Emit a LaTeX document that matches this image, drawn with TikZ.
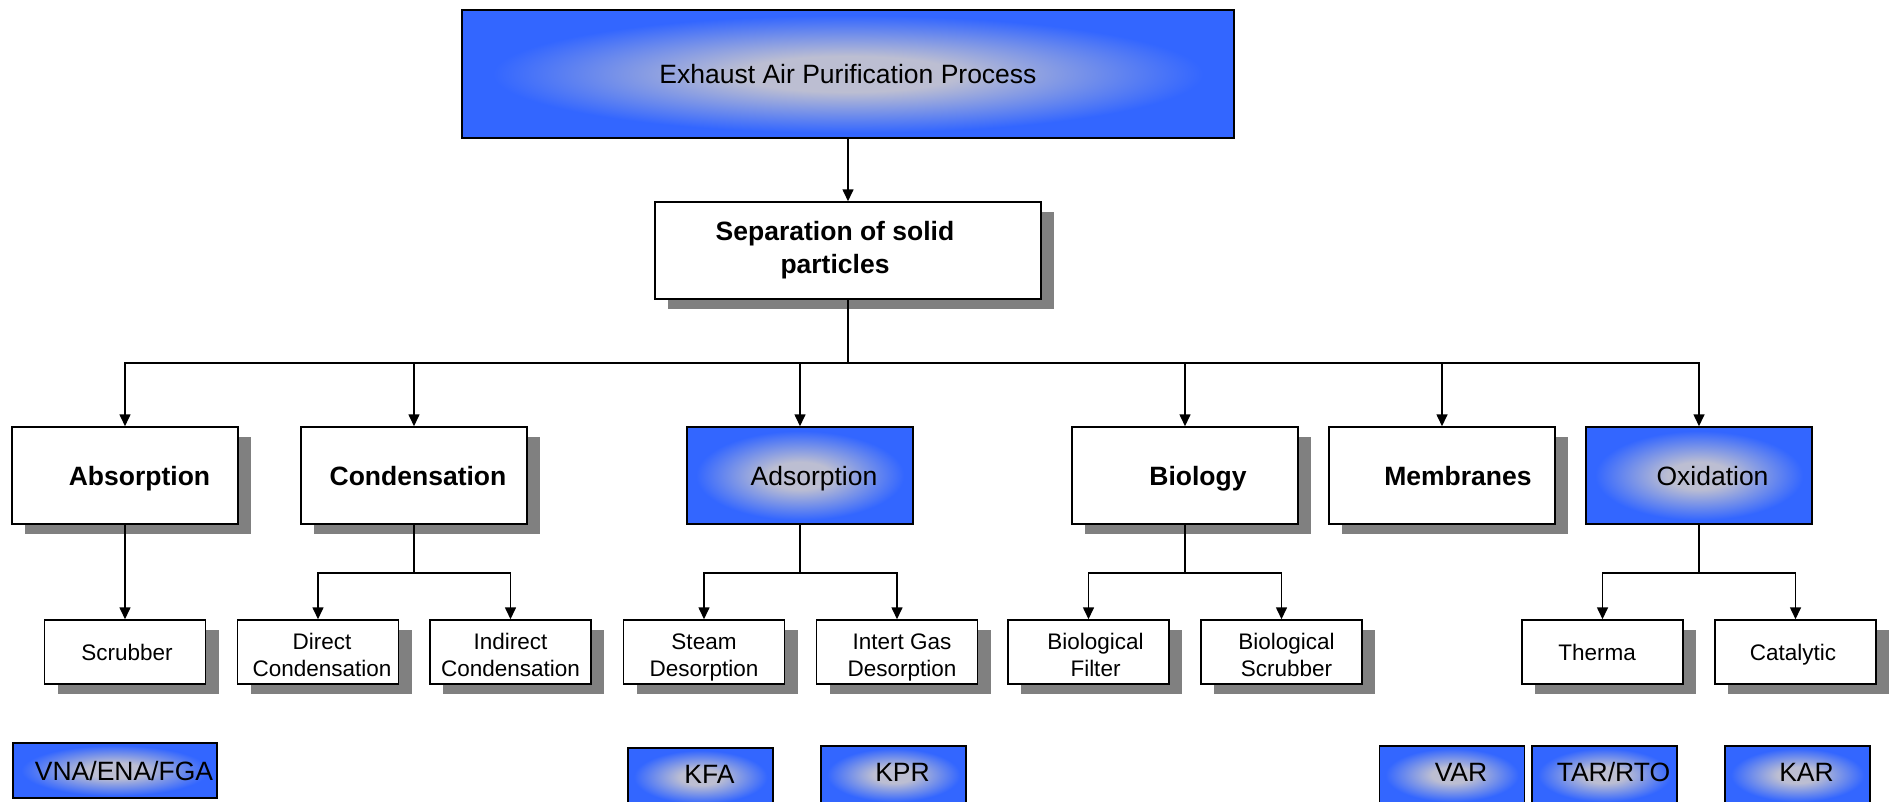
\documentclass[tikz,border=0pt]{standalone}
\usepackage{fontspec}
\setmainfont{Liberation Sans}
\usetikzlibrary{arrows.meta,shadows}
\definecolor{bedge}{RGB}{51,102,255}
\definecolor{bcenter}{RGB}{188,190,210}
\definecolor{shgray}{RGB}{128,128,128}
\pgfdeclareradialshading{glow}{\pgfpoint{0bp}{0bp}}{color(0bp)=(bcenter); color(7bp)=(bcenter); color(23bp)=(bedge); color(50bp)=(bedge)}
\newcommand\padl[1]{\rule{#1}{0pt}}
\newcommand\twol[3]{\rule{#1}{0pt}\rule{0pt}{26pt}#2\\\rule{#1}{0pt}#3\rule[-5pt]{0pt}{5pt}}
\tikzset{
  box/.style={draw=black, line width=1.5pt, rectangle, inner sep=0pt, align=center},
  wbox/.style={box, fill=white, drop shadow={shadow xshift=13pt, shadow yshift=-10pt, fill=shgray, opacity=1}},
  gbox/.style={box, shade, shading=glow},
  lvltwo/.style={minimum width=226pt, minimum height=97pt, font=\fontsize{26.5}{33}\selectfont, text height=19pt, text depth=0pt},
  lvlthree/.style={wbox, minimum width=161pt, minimum height=64pt, font=\fontsize{22.5}{27}\selectfont},
  onel/.style={text height=16.1pt, text depth=0pt},
  botbox/.style={gbox, minimum width=145pt, minimum height=58pt, font=\fontsize{26.5}{33}\selectfont, text height=19pt, text depth=6pt},
  conn/.style={line width=1.6pt, -{Triangle[length=12pt,width=11pt]}},
}
\begin{document}
\begin{tikzpicture}[x=1pt,y=-1pt]
\useasboundingbox (0,0) rectangle (1891,801);
\clip (0,0) rectangle (1891,801);

% level 0 / 1
\node[gbox, minimum width=772pt, minimum height=128pt, font=\fontsize{26.5}{33}\selectfont, text height=19pt, text depth=0pt] (top) at (848,74) {Exhaust Air Purification Process};
\node[wbox, minimum width=386pt, minimum height=97pt, font=\bfseries\fontsize{26.5}{33}\selectfont] (sep) at (848,250.5) {Separation of solid\padl{26pt}\\particles\padl{26pt}};

% level 2
\node[wbox, lvltwo, font=\bfseries\fontsize{26.5}{33}\selectfont] (abs) at (125,475.5) {\padl{29pt}Absorption};
\node[wbox, lvltwo, font=\bfseries\fontsize{26.5}{33}\selectfont] (cond) at (414,475.5) {\padl{8pt}Condensation};
\node[gbox, lvltwo] (ads) at (800,475.5) {\padl{28pt}Adsorption};
\node[wbox, lvltwo, font=\bfseries\fontsize{26.5}{33}\selectfont] (bio) at (1185,475.5) {\padl{26pt}Biology};
\node[wbox, lvltwo, font=\bfseries\fontsize{26.5}{33}\selectfont] (mem) at (1442,475.5) {\padl{32pt}Membranes};
\node[gbox, lvltwo] (oxi) at (1699,475.5) {\padl{27pt}Oxidation};

% level 3
\node[lvlthree, onel] (scr) at (125,652) {\padl{4pt}Scrubber};
\node[lvlthree] (dir) at (318,652) {\twol{8pt}{Direct}{Condensation}};
\node[lvlthree] (ind) at (510.5,652) {\twol{0pt}{Indirect}{Condensation}};
\node[lvlthree] (stm) at (704,652) {\twol{0pt}{Steam}{Desorption}};
\node[lvlthree] (igd) at (897,652) {\twol{10pt}{Intert Gas}{Desorption}};
\node[lvlthree] (bfl) at (1088.5,652) {\twol{14pt}{Biological}{Filter}};
\node[lvlthree] (bsc) at (1281.5,652) {\twol{10pt}{Biological}{Scrubber}};
\node[lvlthree, onel] (thm) at (1602.5,652) {Therma\padl{11pt}};
\node[lvlthree, onel] (cat) at (1795.5,652) {Catalytic\padl{5pt}};

% level 4
\node[botbox, minimum width=204pt, minimum height=55pt, text depth=0pt] (vna) at (115,770.5) {\padl{18pt}VNA/ENA/FGA};
\node[botbox] (kfa) at (700.5,777) {\padl{18pt}KFA};
\node[botbox] (kpr) at (893.5,775) {\padl{18pt}KPR};
\node[botbox] (var) at (1452,775) {\padl{18pt}VAR};
\node[botbox] (tar) at (1604.5,775) {\padl{18pt}TAR/RTO};
\node[botbox] (kar) at (1797.5,775) {\padl{18pt}KAR};

% connectors
\draw[conn] (top.south) -- (sep.north);
\foreach \n in {abs,cond,ads,bio,mem,oxi}
  \draw[conn] (sep.south) -- ++(0,63) -| (\n.north);
\draw[conn] (abs.south) -- (scr.north);
\draw[conn] (cond.south) -- ++(0,48) -| (dir.north);
\draw[conn] (cond.south) -- ++(0,48) -| (ind.north);
\draw[conn] (ads.south) -- ++(0,48) -| (stm.north);
\draw[conn] (ads.south) -- ++(0,48) -| (igd.north);
\draw[conn] (bio.south) -- ++(0,48) -| (bfl.north);
\draw[conn] (bio.south) -- ++(0,48) -| (bsc.north);
\draw[conn] (oxi.south) -- ++(0,48) -| (thm.north);
\draw[conn] (oxi.south) -- ++(0,48) -| (cat.north);
\end{tikzpicture}
\end{document}
